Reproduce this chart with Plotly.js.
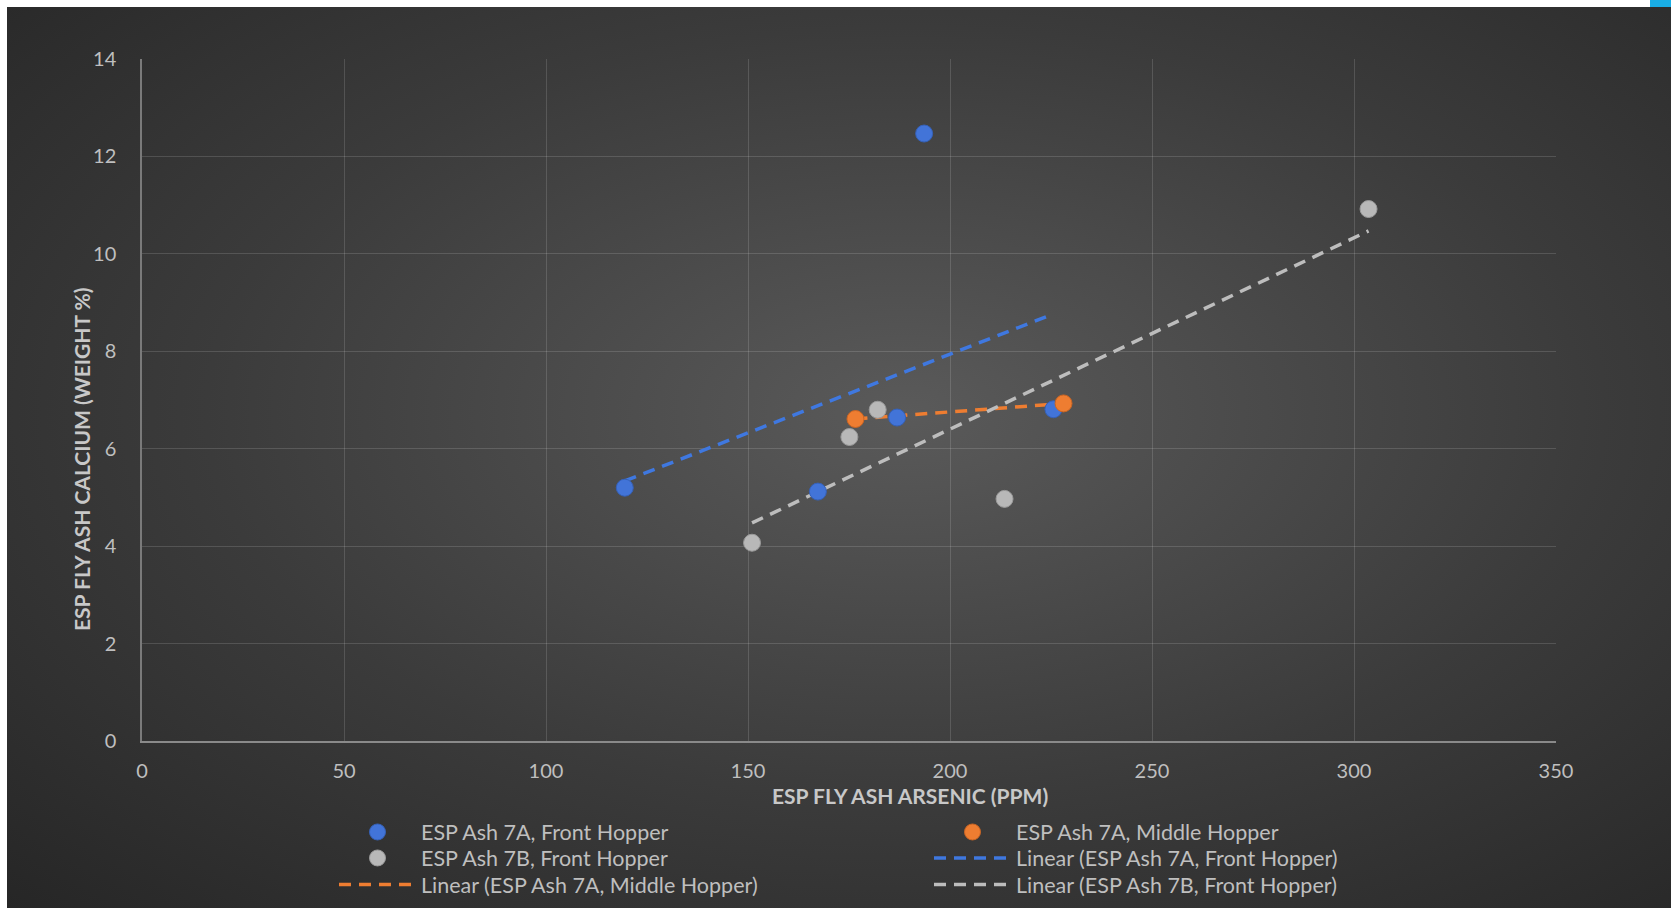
<!DOCTYPE html>
<html>
<head>
<meta charset="utf-8">
<script src="https://cdn.plot.ly/plotly-3.0.1.min.js"></script>
<style>
  html, body { margin: 0; padding: 0; background: #ffffff; width: 1671px; height: 908px; overflow: hidden; }
  #bg { position: absolute; left: 7px; top: 7px; width: 1664px; height: 901px;
        background: radial-gradient(ellipse farthest-corner at 54% 45%, #5a5a5a 0%, #3b3b3b 55%, #262626 100%); }
  #corner { position: absolute; left: 1650px; top: 0; width: 21px; height: 7px; background: #1aaee6; }
  #chart { position: absolute; left: 0; top: 0; width: 1671px; height: 908px; }
</style>
</head>
<body>
<div id="bg"></div>
<div id="corner"></div>
<div id="chart"></div>
<script>
// ---- data ----
const seriesNames = ["ESP Ash 7A, Front Hopper", "ESP Ash 7A, Middle Hopper", "ESP Ash 7B, Front Hopper"];
const ash7aFrontX  = [119.5, 167.3, 186.9, 193.6, 225.6];
const ash7aFrontY  = [5.20, 5.12, 6.64, 12.47, 6.81];
const ash7aMiddleX = [176.6, 228.1];
const ash7aMiddleY = [6.61, 6.93];
const ash7bFrontX  = [182.1, 175.1, 151.0, 213.5, 303.6];
const ash7bFrontY  = [6.80, 6.24, 4.07, 4.97, 10.92];
const xTicks = [0, 50, 100, 150, 200, 250, 300, 350];
const yTicks = [0, 2, 4, 6, 8, 10, 12, 14];
const xTitle = "ESP FLY ASH ARSENIC (PPM)";
const yTitle = "ESP FLY ASH CALCIUM (WEIGHT %)";

// least-squares linear trend evaluated at the series' min and max x
function linearFit(xs, ys) {
  const n = xs.length;
  const mx = xs.reduce((a, b) => a + b, 0) / n;
  const my = ys.reduce((a, b) => a + b, 0) / n;
  let sxy = 0, sxx = 0;
  for (let i = 0; i < n; i++) { sxy += (xs[i] - mx) * (ys[i] - my); sxx += (xs[i] - mx) ** 2; }
  const b = sxy / sxx, a = my - b * mx;
  const x0 = Math.min(...xs), x1 = Math.max(...xs);
  return { x: [x0, x1], y: [a + b * x0, a + b * x1] };
}

const colors = { blue: "#4274d8", orange: "#ee7d31", gray: "#b8b8b8" };
const lineColors = { blue: "#3f78e0", orange: "#ee7d31", gray: "#bdbdbd" };

function pts(x, y, name, c, lc, lg) {
  return { type: "scatter", mode: "markers", x: x, y: y, name: name, legend: lg,
    marker: { size: 17, color: c, line: { color: lc, width: 1 } }, hoverinfo: "x+y+name" };
}
function trend(x, y, name, c, lg) {
  const f = linearFit(x, y);
  return { type: "scatter", mode: "lines", x: f.x, y: f.y, name: "Linear (" + name + ")", legend: lg,
    line: { color: c, width: 3.5, dash: "12px,8px" }, hoverinfo: "skip" };
}

// trendlines first so markers sit on top; legend rows mirror the reference order
const ptBlue   = pts(ash7aFrontX, ash7aFrontY, seriesNames[0], colors.blue, "#3561b8", "legend");
const ptOrange = pts(ash7aMiddleX, ash7aMiddleY, seriesNames[1], colors.orange, "#c96524", "legend");
const ptGray   = pts(ash7bFrontX, ash7bFrontY, seriesNames[2], colors.gray, "#9a9a9a", "legend2");
const trBlue   = trend(ash7aFrontX, ash7aFrontY, seriesNames[0], lineColors.blue, "legend2");
const trOrange = trend(ash7aMiddleX, ash7aMiddleY, seriesNames[1], lineColors.orange, "legend3");
const trGray   = trend(ash7bFrontX, ash7bFrontY, seriesNames[2], lineColors.gray, "legend3");
ptBlue.legendrank = 1; ptOrange.legendrank = 2;
ptGray.legendrank = 1; trBlue.legendrank = 2;
trOrange.legendrank = 1; trGray.legendrank = 2;
const data = [trBlue, trOrange, trGray, ptBlue, ptOrange, ptGray];

const FONT = "Lato, 'Open Sans', sans-serif";
const tickFont = { family: FONT, size: 20, color: "#bfbfbf" };
const titleFont = { family: FONT, size: 21, color: "#c8c8c8", weight: "bold" };

function legendRow(centerY) {
  return {
    orientation: "h", xref: "container", yref: "container",
    x: 334 / 1671, xanchor: "left", y: 1 - centerY / 908, yanchor: "middle",
    itemwidth: 77, entrywidth: 503, entrywidthmode: "pixels",
    font: { family: FONT, size: 21.5, color: "#bfbfbf" },
    bgcolor: "rgba(0,0,0,0)", traceorder: "normal", itemclick: false, itemdoubleclick: false
  };
}

const layout = {
  width: 1671, height: 908,
  paper_bgcolor: "rgba(0,0,0,0)", plot_bgcolor: "rgba(0,0,0,0)",
  margin: { l: 142, r: 115, t: 59, b: 167, pad: 0 },
  showlegend: true,
  xaxis: {
    range: [0, 350], tickvals: xTicks, ticktext: xTicks.map(String),
    showgrid: true, gridcolor: "rgba(255,255,255,0.14)", gridwidth: 1,
    showline: true, linecolor: "#8a8a8a", linewidth: 2,
    zeroline: false, ticks: "", ticklabelstandoff: 11,
    tickfont: tickFont, fixedrange: true
  },
  yaxis: {
    range: [0, 14], tickvals: yTicks, ticktext: yTicks.map(String),
    showgrid: true, gridcolor: "rgba(255,255,255,0.14)", gridwidth: 1,
    showline: true, linecolor: "#7a7a7a", linewidth: 1.5,
    zeroline: false, ticks: "", ticklabelstandoff: 20,
    tickfont: tickFont, fixedrange: true
  },
  legend: legendRow(832),
  legend2: legendRow(858),
  legend3: legendRow(884.5),
  annotations: [
    { text: xTitle, xref: "paper", yref: "paper", x: (910 - 142) / 1414, y: -(795 - 741) / 682,
      xanchor: "center", yanchor: "middle", showarrow: false, font: titleFont },
    { text: yTitle, xref: "paper", yref: "paper", x: -(142 - 82) / 1414, y: (741 - 459) / 682,
      xanchor: "center", yanchor: "middle", showarrow: false, textangle: -90, font: titleFont }
  ]
};

Plotly.newPlot("chart", data, layout, { displayModeBar: false });
</script>
</body>
</html>
